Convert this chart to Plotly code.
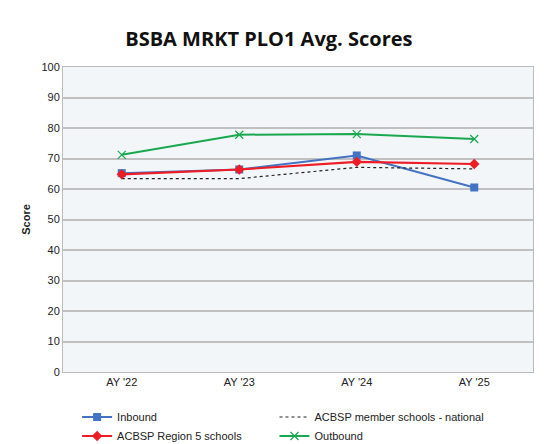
import plotly.graph_objects as go

years = ["AY '22", "AY '23", "AY '24", "AY '25"]
inbound = [65.2, 66.4, 71.0, 60.5]
national = [63.4, 63.4, 67.1, 66.6]
region5 = [64.8, 66.4, 68.9, 68.2]
outbound = [71.2, 77.8, 78.0, 76.4]

fig = go.Figure()
fig.add_trace(go.Scatter(x=years, y=inbound, name="Inbound", mode="lines+markers", legend="legend",
                         line=dict(color="#4472c4", width=2), marker=dict(symbol="square", size=8, color="#4472c4")))
fig.add_trace(go.Scatter(x=years, y=national, name="ACBSP member schools - national", mode="lines", legend="legend2",
                         line=dict(color="#222222", width=1.2, dash="dot")))
fig.add_trace(go.Scatter(x=years, y=region5, name="ACBSP Region 5 schools", mode="lines+markers", legend="legend",
                         line=dict(color="#ee1c25", width=2.2), marker=dict(symbol="diamond", size=8, color="#ee1c25")))
fig.add_trace(go.Scatter(x=years, y=outbound, name="Outbound", mode="lines+markers", legend="legend2",
                         line=dict(color="#1aa84f", width=2), marker=dict(symbol="x-thin", size=8, line=dict(color="#1aa84f", width=1.2))))

leg = dict(orientation="v", yanchor="top", y=-0.1, xanchor="left", font=dict(size=11),
           bgcolor="rgba(0,0,0,0)", tracegroupgap=0)
fig.update_layout(
    width=555, height=444,
    margin=dict(l=55, r=30, t=59, b=80, autoexpand=False),
    paper_bgcolor="white", plot_bgcolor="#f2f6f9",
    font=dict(family="Liberation Sans, Arial", size=11, color="#222"),
    title=dict(text="<b>BSBA MRKT PLO1 Avg. Scores</b>", x=0.47, xanchor="center", y=0.945,
               font=dict(size=20, color="#111", family="Open Sans, Liberation Sans")),
    showlegend=True,
    legend=dict(leg, x=0.03),
    legend2=dict(leg, x=0.45),
)
fig.update_xaxes(showline=True, linecolor="#bbbbbb", mirror=True, showgrid=False, ticks="", range=[-0.5, 3.5])
fig.update_yaxes(range=[0, 100], dtick=10, showline=True, linecolor="#bbbbbb", mirror=True,
                 gridcolor="#c0c0c0", gridwidth=1.5, zeroline=False,
                 title=dict(text="<b>Score</b>", font=dict(size=11), standoff=8))
fig.write_html("out.html")
